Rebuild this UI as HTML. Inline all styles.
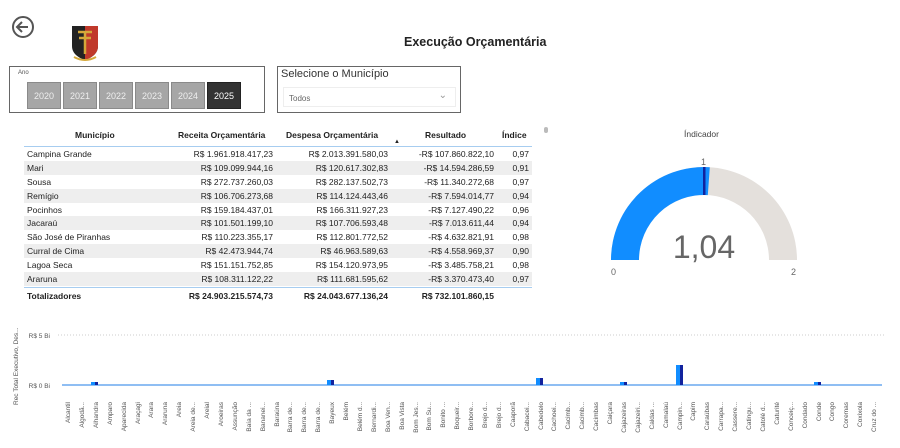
<!DOCTYPE html>
<html><head><meta charset="utf-8"><style>
*{margin:0;padding:0;box-sizing:border-box}
body{width:900px;height:448px;background:#fff;font-family:"Liberation Sans",sans-serif;position:relative;overflow:hidden;color:#222}
.a{position:absolute}
table{border-collapse:collapse;font-size:8.5px}
.yr{position:absolute;top:82px;width:34px;height:27px;background:#a6a6a6;border:1px solid #8a8a8a;color:#eee;font-size:9px;text-align:center;line-height:26px}
</style></head><body>
<svg class="a" style="left:11px;top:15px" width="24" height="24"><circle cx="12" cy="12" r="10" fill="none" stroke="#555" stroke-width="2"/><path d="M17 12H7M11 7l-5 5 5 5" fill="none" stroke="#555" stroke-width="2"/></svg>
<svg class="a" style="left:70px;top:24px" width="30" height="38"><path d="M2 2h26v20c0 8-7 12-13 14C9 34 2 30 2 22z" fill="#222"/><path d="M15 2h13v20c0 8-7 12-13 14z" fill="#c0392b"/><path d="M8 8h14M15 8v22M9 14h12" stroke="#d4a83a" stroke-width="2.5"/><path d="M4 33q11 6 22 0" stroke="#d4a83a" stroke-width="2" fill="none"/></svg>
<div class="a" style="left:404px;top:35px;font-size:12.5px;font-weight:bold">Execução Orçamentária</div>
<div class="a" style="left:9px;top:66px;width:256px;height:47px;border:1px solid #666"></div>
<div class="a" style="left:18px;top:70px;font-size:6px;color:#555">Ano</div>
<div class="yr" style="left:27px">2020</div><div class="yr" style="left:63px">2021</div><div class="yr" style="left:99px">2022</div><div class="yr" style="left:135px">2023</div><div class="yr" style="left:171px">2024</div><div class="yr" style="left:207px;background:#333;color:#fff;border-color:#222;width:34px">2025</div>
<div class="a" style="left:277px;top:66px;width:184px;height:47px;border:1px solid #666"></div>
<div class="a" style="left:281px;top:68px;font-size:11px;color:#333">Selecione o Município</div>
<div class="a" style="left:283px;top:87px;width:173px;height:20px;border:1px solid #eee;font-size:8px;color:#666;padding:6px 5px">Todos<span style="position:absolute;right:8px;top:2px;color:#999;font-size:10px">&#8964;</span></div>
<div class="a" style="left:75px;top:130px;font-size:8.5px;font-weight:bold">Município</div>
<div class="a" style="left:178px;top:130px;font-size:8.5px;font-weight:bold">Receita Orçamentária</div>
<div class="a" style="left:286px;top:130px;font-size:8.5px;font-weight:bold">Despesa Orçamentária</div>
<div class="a" style="left:425px;top:130px;font-size:8.5px;font-weight:bold">Resultado</div>
<div class="a" style="left:502px;top:130px;font-size:8.5px;font-weight:bold">Índice</div>
<div class="a" style="left:394px;top:139px;font-size:6px">&#9650;</div>
<div class="a" style="left:24px;top:146px;width:508px;height:1px;background:#a7cdf0"></div>
<table class="a" style="left:24px;top:147px;width:508px">
<colgroup><col style="width:130px"><col style="width:119px"><col style="width:115px"><col style="width:106px"><col style="width:38px"></colgroup>
<tbody>
<tr style="height:13.9px"><td style="padding-left:3px">Campina Grande</td><td align="right">R$ 1.961.918.417,23</td><td align="right">R$ 2.013.391.580,03</td><td align="right">-R$ 107.860.822,10</td><td align="right" style="padding-right:3px">0,97</td></tr>
<tr style="height:13.9px;background:#eee"><td style="padding-left:3px">Mari</td><td align="right">R$ 109.099.944,16</td><td align="right">R$ 120.617.302,83</td><td align="right">-R$ 14.594.286,59</td><td align="right" style="padding-right:3px">0,91</td></tr>
<tr style="height:13.9px"><td style="padding-left:3px">Sousa</td><td align="right">R$ 272.737.260,03</td><td align="right">R$ 282.137.502,73</td><td align="right">-R$ 11.340.272,68</td><td align="right" style="padding-right:3px">0,97</td></tr>
<tr style="height:13.9px;background:#eee"><td style="padding-left:3px">Remígio</td><td align="right">R$ 106.706.273,68</td><td align="right">R$ 114.124.443,46</td><td align="right">-R$ 7.594.014,77</td><td align="right" style="padding-right:3px">0,94</td></tr>
<tr style="height:13.9px"><td style="padding-left:3px">Pocinhos</td><td align="right">R$ 159.184.437,01</td><td align="right">R$ 166.311.927,23</td><td align="right">-R$ 7.127.490,22</td><td align="right" style="padding-right:3px">0,96</td></tr>
<tr style="height:13.9px;background:#eee"><td style="padding-left:3px">Jacaraú</td><td align="right">R$ 101.501.199,10</td><td align="right">R$ 107.706.593,48</td><td align="right">-R$ 7.013.611,44</td><td align="right" style="padding-right:3px">0,94</td></tr>
<tr style="height:13.9px"><td style="padding-left:3px">São José de Piranhas</td><td align="right">R$ 110.223.355,17</td><td align="right">R$ 112.801.772,52</td><td align="right">-R$ 4.632.821,91</td><td align="right" style="padding-right:3px">0,98</td></tr>
<tr style="height:13.9px;background:#eee"><td style="padding-left:3px">Curral de Cima</td><td align="right">R$ 42.473.944,74</td><td align="right">R$ 46.963.589,63</td><td align="right">-R$ 4.558.969,37</td><td align="right" style="padding-right:3px">0,90</td></tr>
<tr style="height:13.9px"><td style="padding-left:3px">Lagoa Seca</td><td align="right">R$ 151.151.752,85</td><td align="right">R$ 154.120.973,95</td><td align="right">-R$ 3.485.758,21</td><td align="right" style="padding-right:3px">0,98</td></tr>
<tr style="height:13.9px;background:#eee"><td style="padding-left:3px">Araruna</td><td align="right">R$ 108.311.122,22</td><td align="right">R$ 111.681.595,62</td><td align="right">-R$ 3.370.473,40</td><td align="right" style="padding-right:3px">0,97</td></tr>
</tbody></table>
<div class="a" style="left:24px;top:287px;width:508px;height:1px;background:#a7cdf0"></div>
<div class="a" style="left:27px;top:291px;font-size:8.5px;font-weight:bold">Totalizadores</div>
<div class="a" style="left:150px;top:291px;width:123px;text-align:right;font-size:8.5px;font-weight:bold">R$ 24.903.215.574,73</div>
<div class="a" style="left:268px;top:291px;width:120px;text-align:right;font-size:8.5px;font-weight:bold">R$ 24.043.677.136,24</div>
<div class="a" style="left:374px;top:291px;width:120px;text-align:right;font-size:8.5px;font-weight:bold">R$ 732.101.860,15</div>
<div class="a" style="left:544px;top:127px;width:4px;height:6px;background:#bbb;border-radius:2px"></div>
<div class="a" style="left:684px;top:129px;font-size:8.5px;color:#444">Índicador</div>
<svg class="a" style="left:600px;top:150px" width="210" height="130">
<path d="M11 110A93 93 0 0 1 197 110H169A65 65 0 0 0 39 110Z" fill="#e4e0dc"/>
<path d="M11 110A93 93 0 0 1 109.8 17.2L107.8 45.1A65 65 0 0 0 39 110Z" fill="#118dff"/>
<rect x="103" y="17" width="2.5" height="28" fill="#12239e"/>
<text x="104" y="108" font-size="32" fill="#666" text-anchor="middle" font-family="Liberation Sans">1,04</text>
<text x="101" y="15" font-size="9" fill="#666" font-family="Liberation Sans">1</text>
<text x="11" y="125" font-size="9" fill="#666" font-family="Liberation Sans">0</text>
<text x="191" y="125" font-size="9" fill="#666" font-family="Liberation Sans">2</text>
</svg>
<svg class="a" style="left:0;top:310px" width="900" height="138" font-family="Liberation Sans" font-size="6.5" fill="#555">
<text transform="translate(18,95) rotate(-90)" font-size="6.5">Rec Total Executivo, Des...</text>
<text x="50" y="28" text-anchor="end">R$ 5 Bi</text>
<text x="50" y="78" text-anchor="end">R$ 0 Bi</text>
<line x1="58" y1="25" x2="884" y2="25" stroke="#ccc" stroke-dasharray="1,2"/>
<line x1="62" y1="75" x2="882" y2="75" stroke="#6aa8ef" stroke-width="1.5"/>
<g fill="#118dff"><rect x="91" y="72" width="5" height="3"/><rect x="327" y="70" width="5" height="5"/><rect x="536" y="68" width="5" height="7"/><rect x="620" y="72" width="5" height="3"/><rect x="676" y="55" width="4" height="20"/><rect x="814" y="72" width="5" height="3"/></g>
<g fill="#12239e"><rect x="95" y="72" width="3" height="3"/><rect x="331" y="70" width="3" height="5"/><rect x="540" y="68" width="3" height="7"/><rect x="624" y="72" width="3" height="3"/><rect x="680" y="55" width="3" height="20"/><rect x="818" y="72" width="3" height="3"/></g>
<g text-anchor="end">
<text transform="translate(70,92) rotate(-90)">Alcantil</text>
<text transform="translate(84,92) rotate(-90)">Algodã...</text>
<text transform="translate(98,92) rotate(-90)">Alhandra</text>
<text transform="translate(112,92) rotate(-90)">Amparo</text>
<text transform="translate(126,92) rotate(-90)">Aparecida</text>
<text transform="translate(140,92) rotate(-90)">Araçagi</text>
<text transform="translate(153,92) rotate(-90)">Arara</text>
<text transform="translate(167,92) rotate(-90)">Araruna</text>
<text transform="translate(181,92) rotate(-90)">Areia</text>
<text transform="translate(195,92) rotate(-90)">Areia de...</text>
<text transform="translate(209,92) rotate(-90)">Areial</text>
<text transform="translate(223,92) rotate(-90)">Aroeiras</text>
<text transform="translate(237,92) rotate(-90)">Assunção</text>
<text transform="translate(251,92) rotate(-90)">Baía da ...</text>
<text transform="translate(265,92) rotate(-90)">Bananei...</text>
<text transform="translate(279,92) rotate(-90)">Baraúna</text>
<text transform="translate(292,92) rotate(-90)">Barra de...</text>
<text transform="translate(306,92) rotate(-90)">Barra de...</text>
<text transform="translate(320,92) rotate(-90)">Barra de...</text>
<text transform="translate(334,92) rotate(-90)">Bayeux</text>
<text transform="translate(348,92) rotate(-90)">Belém</text>
<text transform="translate(362,92) rotate(-90)">Belém d...</text>
<text transform="translate(376,92) rotate(-90)">Bernardi...</text>
<text transform="translate(390,92) rotate(-90)">Boa Ven...</text>
<text transform="translate(404,92) rotate(-90)">Boa Vista</text>
<text transform="translate(418,92) rotate(-90)">Bom Jes...</text>
<text transform="translate(431,92) rotate(-90)">Bom Su...</text>
<text transform="translate(445,92) rotate(-90)">Bonito ...</text>
<text transform="translate(459,92) rotate(-90)">Boqueir...</text>
<text transform="translate(473,92) rotate(-90)">Borbore...</text>
<text transform="translate(487,92) rotate(-90)">Brejo d...</text>
<text transform="translate(501,92) rotate(-90)">Brejo d...</text>
<text transform="translate(515,92) rotate(-90)">Caaporã</text>
<text transform="translate(529,92) rotate(-90)">Cabacei...</text>
<text transform="translate(543,92) rotate(-90)">Cabedelo</text>
<text transform="translate(556,92) rotate(-90)">Cachoei...</text>
<text transform="translate(570,92) rotate(-90)">Cacimb...</text>
<text transform="translate(584,92) rotate(-90)">Cacimb...</text>
<text transform="translate(598,92) rotate(-90)">Cacimbas</text>
<text transform="translate(612,92) rotate(-90)">Caiçara</text>
<text transform="translate(626,92) rotate(-90)">Cajazeiras</text>
<text transform="translate(640,92) rotate(-90)">Cajazeiri...</text>
<text transform="translate(654,92) rotate(-90)">Caldas ...</text>
<text transform="translate(668,92) rotate(-90)">Camalaú</text>
<text transform="translate(682,92) rotate(-90)">Campin...</text>
<text transform="translate(695,92) rotate(-90)">Capim</text>
<text transform="translate(709,92) rotate(-90)">Caraúbas</text>
<text transform="translate(723,92) rotate(-90)">Carrapa...</text>
<text transform="translate(737,92) rotate(-90)">Cassere...</text>
<text transform="translate(751,92) rotate(-90)">Catingu...</text>
<text transform="translate(765,92) rotate(-90)">Catolé d...</text>
<text transform="translate(779,92) rotate(-90)">Caturité</text>
<text transform="translate(793,92) rotate(-90)">Conceiç...</text>
<text transform="translate(807,92) rotate(-90)">Condado</text>
<text transform="translate(821,92) rotate(-90)">Conde</text>
<text transform="translate(834,92) rotate(-90)">Congo</text>
<text transform="translate(848,92) rotate(-90)">Coremas</text>
<text transform="translate(862,92) rotate(-90)">Coxixola</text>
<text transform="translate(876,92) rotate(-90)">Cruz do ...</text>
</g>
</svg>
</body></html>
